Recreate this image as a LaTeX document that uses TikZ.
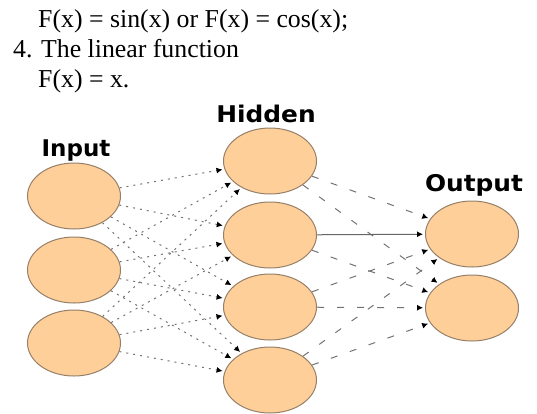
\documentclass[tikz,border=0pt]{standalone}
\usepackage{fontspec}
\setmainfont{Liberation Serif}
\newfontfamily\labfont{DejaVu Sans}
\usetikzlibrary{shapes.geometric,arrows.meta}
\definecolor{peach}{RGB}{255,207,153}
\definecolor{rim}{RGB}{150,128,105}
\tikzset{
  neuron/.style={ellipse,draw=rim,line width=1pt,fill=peach,minimum width=93pt,minimum height=66pt,inner sep=0pt},
  txt/.style={anchor=base west,inner sep=0pt,font=\fontsize{25.8}{30}\selectfont},
  lab/.style={inner sep=0pt,font=\labfont\bfseries\fontsize{23}{26}\selectfont},
  inlink/.style={draw=black!55,line width=1pt,dash pattern=on 2pt off 5pt,shorten >=2pt,-{Latex[length=6pt,width=6pt,black]}},
  outlink/.style={draw=black!55,line width=1pt,dash pattern=on 7pt off 13pt,shorten >=2pt,-{Latex[length=6pt,width=6pt,black]}},
  solidlink/.style={draw=black!60,line width=1pt,shorten >=2pt,-{Latex[length=6pt,width=6pt,black]}}
}
\begin{document}
\begin{tikzpicture}[x=1pt,y=-1pt]
\useasboundingbox (0,0) rectangle (537,413);
\node[txt] (t1) at (38,27) {F(x) = sin(x) or F(x) = cos(x);};
\node[txt] (t2) at (13,57) {4. The linear function};
\node[txt] (t3) at (38,87) {F(x) = x.};
\node[lab] (linput) at (76,151) {Input};
\node[lab,xscale=1.08] (lhidden) at (266,114) {Hidden};
\node[lab,xscale=1.08] (loutput) at (474,185) {Output};
\node[neuron] (i1) at (74,196) {};
\node[neuron] (i2) at (74,270) {};
\node[neuron] (i3) at (74,343) {};
\node[neuron] (h1) at (270,161) {};
\node[neuron] (h2) at (270,235) {};
\node[neuron] (h3) at (270,307) {};
\node[neuron] (h4) at (270,380) {};
\node[neuron] (o1) at (472,234) {};
\node[neuron] (o2) at (472,308) {};
\foreach \i in {1,2,3}{
  \foreach \h in {1,2,3,4}{
    \draw[inlink] (i\i) -- (h\h);
  }
}
\draw[outlink] (h1) -- (o1);
\draw[outlink] (h1) -- (o2);
\draw[solidlink] (h2) -- (o1);
\draw[outlink] (h2) -- (o2);
\draw[outlink] (h3) -- (o1);
\draw[outlink] (h3) -- (o2);
\draw[outlink] (h4) -- (o1);
\draw[outlink] (h4) -- (o2);
\end{tikzpicture}
\end{document}
